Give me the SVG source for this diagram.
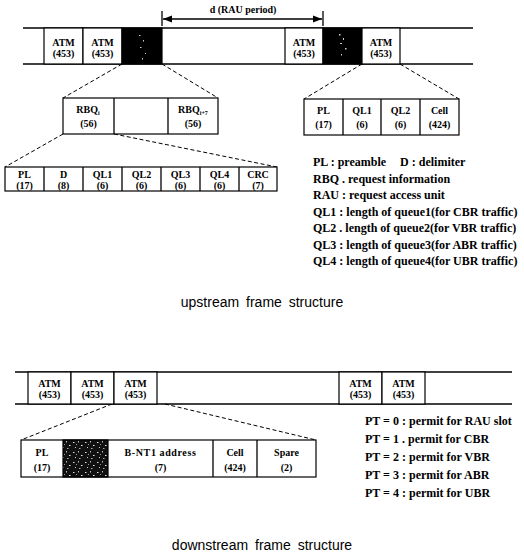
<svg xmlns="http://www.w3.org/2000/svg" width="524" height="554" viewBox="0 0 524 554">
<defs>
<pattern id="noise" width="12" height="10" patternUnits="userSpaceOnUse">
<rect width="12" height="10" fill="#111"/>
<rect x="1" y="2" width="1.5" height="1" fill="#ddd"/>
<rect x="6" y="1" width="1" height="1.5" fill="#bbb"/>
<rect x="9" y="5" width="1.5" height="1" fill="#eee"/>
<rect x="3" y="7" width="1" height="1" fill="#ccc"/>
<rect x="7" y="8" width="1.5" height="1" fill="#aaa"/>
<rect x="4" y="4" width="1" height="1" fill="#999"/>
</pattern>
<marker id="arr" viewBox="0 0 10 10" refX="10" refY="5" markerWidth="7" markerHeight="7" orient="auto-start-reverse">
<path d="M0,1 L10,5 L0,9 z" fill="#000"/>
</marker>
</defs>
<style>
.ln{stroke:#000;stroke-width:1.3;fill:none}
.box{fill:#fff;stroke:#000;stroke-width:1.2}
.blk{fill:#000;stroke:#000;stroke-width:1.2}
.spk{fill:#ccc}
.dash{stroke:#000;stroke-width:1;stroke-dasharray:4 2.5;fill:none}
.t{font-family:"Liberation Serif","Times New Roman",serif;font-weight:bold;font-size:10px;text-anchor:middle;fill:#000}
.lg{font-family:"Liberation Serif","Times New Roman",serif;font-weight:bold;font-size:12px;fill:#000}
.cap{font-family:"Liberation Sans",Arial,sans-serif;font-size:14px;text-anchor:middle;word-spacing:3px;fill:#000}
</style>
<rect width="524" height="554" fill="#fff"/>

<g id="rau-period">
<line x1="162" y1="11" x2="162" y2="26" class="ln"/>
<line x1="323" y1="11" x2="323" y2="26" class="ln"/>
<line x1="163" y1="19" x2="322" y2="19" class="ln" marker-start="url(#arr)" marker-end="url(#arr)"/>
<text x="243" y="13" class="t" font-size="11.5">d (RAU period)</text>
</g>

<g id="upstream-bar">
<line x1="23" y1="28" x2="473" y2="28" class="ln"/>
<line x1="23" y1="64" x2="473" y2="64" class="ln"/>
<rect x="44" y="28" width="39" height="36" class="box"/>
<rect x="83" y="28" width="39" height="36" class="box"/>
<rect x="122" y="28" width="40" height="36" class="blk"/>
<rect x="285" y="28" width="38" height="36" class="box"/>
<rect x="323" y="28" width="39" height="36" class="blk"/>
<rect x="362" y="28" width="38" height="36" class="box"/>
<rect x="139" y="35" width="1.5" height="1" class="spk"/><rect x="143" y="40" width="1" height="1.5" class="spk"/><rect x="140" y="47" width="1.5" height="1" class="spk"/><rect x="145" y="53" width="1" height="1" class="spk"/><rect x="142" y="58" width="1" height="1.5" class="spk"/>
<rect x="339" y="34" width="1.5" height="1.5" class="spk"/><rect x="343" y="38" width="1" height="2" class="spk"/><rect x="340" y="43" width="2" height="1" class="spk"/><rect x="345" y="48" width="1.5" height="1.5" class="spk"/><rect x="341" y="54" width="1" height="1.5" class="spk"/>
<text x="63.5" y="46" class="t">ATM</text><text x="63.5" y="57" class="t">(453)</text>
<text x="102.5" y="46" class="t">ATM</text><text x="102.5" y="57" class="t">(453)</text>
<text x="304" y="46" class="t">ATM</text><text x="304" y="57" class="t">(453)</text>
<text x="381" y="46" class="t">ATM</text><text x="381" y="57" class="t">(453)</text>
</g>

<g id="connectors">
<line x1="122" y1="64" x2="63" y2="98" class="dash"/>
<line x1="162" y1="64" x2="218" y2="98" class="dash"/>
<line x1="63" y1="134" x2="5" y2="167" class="dash"/>
<line x1="114" y1="134" x2="277" y2="167" class="dash"/>
<line x1="362" y1="64" x2="304" y2="99" class="dash"/>
<line x1="400" y1="64" x2="459" y2="99" class="dash"/>
<line x1="112" y1="404" x2="21" y2="440" class="dash"/>
<line x1="165" y1="404" x2="316" y2="440" class="dash"/>
</g>

<g id="rbq-block">
<rect x="63" y="98" width="155" height="36" class="box"/>
<line x1="114" y1="98" x2="114" y2="134" class="ln"/>
<line x1="168" y1="98" x2="168" y2="134" class="ln"/>
<text x="88" y="113" class="t">RBQ<tspan font-size="6" dy="2">i</tspan></text>
<text x="88.5" y="127" class="t">(56)</text>
<text x="193" y="113" class="t">RBQ<tspan font-size="6" dy="2">i+7</tspan></text>
<text x="193" y="127" class="t">(56)</text>
</g>

<g id="rbq-detail">
<rect x="5" y="167" width="272" height="24" class="box"/>
<line x1="44" y1="167" x2="44" y2="191" class="ln"/>
<line x1="83" y1="167" x2="83" y2="191" class="ln"/>
<line x1="122" y1="167" x2="122" y2="191" class="ln"/>
<line x1="161" y1="167" x2="161" y2="191" class="ln"/>
<line x1="200" y1="167" x2="200" y2="191" class="ln"/>
<line x1="239" y1="167" x2="239" y2="191" class="ln"/>
<text x="24.5" y="178" class="t">PL</text><text x="24.5" y="189" class="t">(17)</text>
<text x="63.5" y="178" class="t">D</text><text x="63.5" y="189" class="t">(8)</text>
<text x="102.5" y="178" class="t">QL1</text><text x="102.5" y="189" class="t">(6)</text>
<text x="141.5" y="178" class="t">QL2</text><text x="141.5" y="189" class="t">(6)</text>
<text x="180.5" y="178" class="t">QL3</text><text x="180.5" y="189" class="t">(6)</text>
<text x="219.5" y="178" class="t">QL4</text><text x="219.5" y="189" class="t">(6)</text>
<text x="258" y="178" class="t">CRC</text><text x="258" y="189" class="t">(7)</text>
</g>

<g id="atm-cell-detail">
<rect x="304" y="99" width="155" height="36" class="box"/>
<line x1="343" y1="99" x2="343" y2="135" class="ln"/>
<line x1="381" y1="99" x2="381" y2="135" class="ln"/>
<line x1="420" y1="99" x2="420" y2="135" class="ln"/>
<text x="323.5" y="114" class="t">PL</text><text x="323.5" y="128" class="t">(17)</text>
<text x="362" y="114" class="t">QL1</text><text x="362" y="128" class="t">(6)</text>
<text x="400.5" y="114" class="t">QL2</text><text x="400.5" y="128" class="t">(6)</text>
<text x="439.5" y="114" class="t">Cell</text><text x="439.5" y="128" class="t">(424)</text>
</g>

<g id="upstream-legend">
<text x="313" y="166" class="lg">PL : preamble<tspan dx="14">D : delimiter</tspan></text>
<text x="313" y="182.5" class="lg">RBQ . request information</text>
<text x="313" y="199" class="lg">RAU : request access unit</text>
<text x="313" y="215.5" class="lg">QL1 : length of queue1(for CBR traffic)</text>
<text x="313" y="232" class="lg">QL2 . length of queue2(for VBR traffic)</text>
<text x="313" y="248.5" class="lg">QL3 : length of queue3(for ABR traffic)</text>
<text x="313" y="265" class="lg">QL4 : length of queue4(for UBR traffic)</text>
</g>

<text x="262" y="307" class="cap">upstream frame structure</text>

<g id="downstream-bar">
<line x1="15" y1="372" x2="512" y2="372" class="ln"/>
<line x1="15" y1="404" x2="512" y2="404" class="ln"/>
<rect x="28" y="372" width="43" height="32" class="box"/>
<rect x="71" y="372" width="43" height="32" class="box"/>
<rect x="114" y="372" width="43" height="32" class="box"/>
<rect x="339" y="372" width="43" height="32" class="box"/>
<rect x="382" y="372" width="43" height="32" class="box"/>
<text x="49.5" y="387" class="t">ATM</text><text x="49.5" y="398" class="t">(453)</text>
<text x="92.5" y="387" class="t">ATM</text><text x="92.5" y="398" class="t">(453)</text>
<text x="135.5" y="387" class="t">ATM</text><text x="135.5" y="398" class="t">(453)</text>
<text x="360.5" y="387" class="t">ATM</text><text x="360.5" y="398" class="t">(453)</text>
<text x="403.5" y="387" class="t">ATM</text><text x="403.5" y="398" class="t">(453)</text>
</g>

<g id="downstream-cell-detail">
<rect x="21" y="440" width="295" height="37" class="box"/>
<rect x="63" y="440" width="45" height="37" fill="url(#noise)" stroke="#000" stroke-width="1.2"/>
<line x1="213" y1="440" x2="213" y2="477" class="ln"/>
<line x1="257" y1="440" x2="257" y2="477" class="ln"/>
<text x="42" y="456" class="t">PL</text><text x="42" y="471" class="t">(17)</text>
<text x="160.5" y="456" class="t" font-size="10.5" letter-spacing="0.6">B-NT1 address</text><text x="160.5" y="471" class="t">(7)</text>
<text x="235" y="456" class="t">Cell</text><text x="235" y="471" class="t">(424)</text>
<text x="286.5" y="456" class="t">Spare</text><text x="286.5" y="471" class="t">(2)</text>
</g>

<g id="downstream-legend">
<text x="365" y="425" class="lg">PT = 0 : permit for RAU slot</text>
<text x="365" y="443" class="lg">PT = 1 . permit for CBR</text>
<text x="365" y="461" class="lg">PT = 2 : permit for VBR</text>
<text x="365" y="479" class="lg">PT = 3 : permit for ABR</text>
<text x="365" y="497" class="lg">PT = 4 : permit for UBR</text>
</g>

<text x="262" y="550" class="cap">downstream frame structure</text>
</svg>
